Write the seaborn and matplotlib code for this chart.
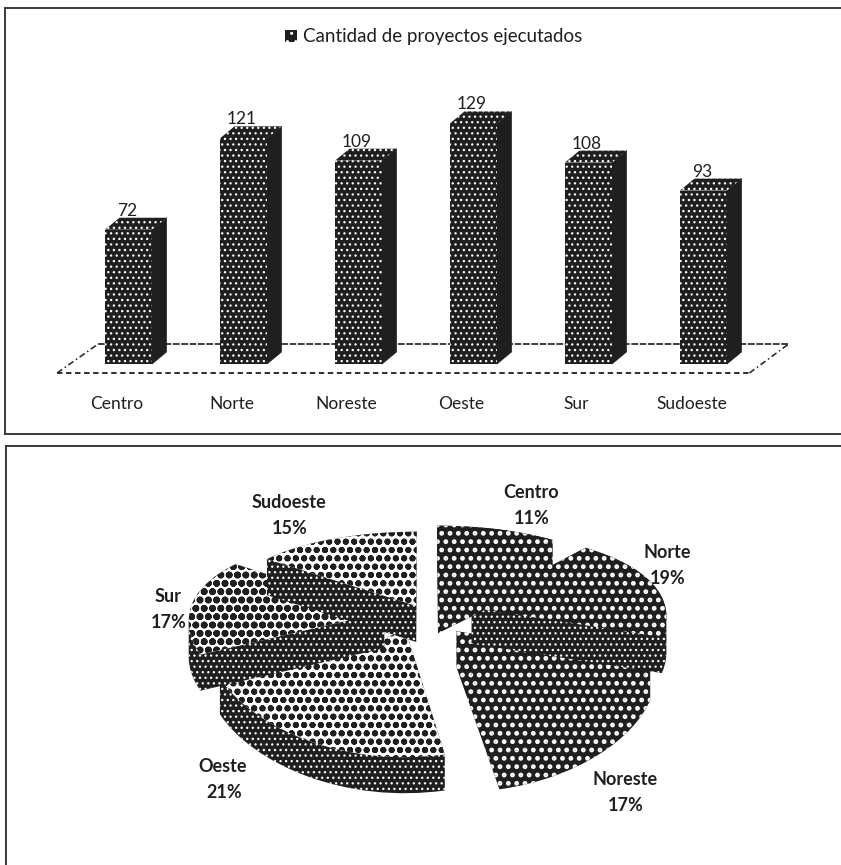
import numpy as np
import pandas as pd
import matplotlib
matplotlib.use("Agg")
import matplotlib.pyplot as plt
from matplotlib.patches import Patch, Polygon
from matplotlib.transforms import Affine2D, ScaledTranslation
import seaborn as sns

regions = ["Centro", "Norte", "Noreste", "Oeste", "Sur", "Sudoeste"]
projects = [72, 121, 109, 129, 108, 93]
shares = [11, 19, 17, 21, 17, 15]
legend_label = "Cantidad de proyectos ejecutados"

W, H = 841, 865
INK = "#1f1f1f"
FRAME = "#3a3a3a"

sns.set_theme(style="white")
plt.rcParams["font.family"] = ["Lato", "DejaVu Sans"]
fig = plt.figure(figsize=(W / 100, H / 100), dpi=100, facecolor="white")


def panel(left, top, right, bottom):
    """Axes placed by pixel edges measured from the top-left corner."""
    return fig.add_axes([left / W, 1 - bottom / H, (right - left) / W, (bottom - top) / H])


# ---- 3D-looking column chart ----
ax = panel(5, 8, 841, 434)
PX_X, PX_Y = 115.0, 1.865       # pixels per category / per project
X0, Y0 = 128.5, 364.0           # pixel position of the first bar, baseline
DX, DY = 14.5 / PX_X, 12 / PX_Y  # extrusion depth in data units
BAR_W = 47 / PX_X

frame = pd.DataFrame({"region": regions, "projects": projects})
sns.barplot(data=frame, x="region", y="projects", ax=ax, width=BAR_W, color=INK,
            saturation=1, edgecolor="white", linewidth=0, hatch="...", zorder=3)
for bar in ax.patches:
    bar.set_facecolor(INK)
    bar.set_edgecolor("white")
    bar.set_hatch_linewidth(0.9)
    bar.set_linewidth(0)

ax.set_xlim((5 - X0) / PX_X, (841 - X0) / PX_X)
ax.set_ylim(-(434 - Y0) / PX_Y, (Y0 - 8) / PX_Y)

for i, v in enumerate(projects):
    l, r = i - BAR_W / 2, i + BAR_W / 2
    ax.add_patch(Polygon([(r, 0), (r + DX, DY), (r + DX, v + DY), (r, v)],
                         facecolor=INK, edgecolor=INK, linewidth=0.5, zorder=2))
    top = Polygon([(l, v), (l + DX, v + DY), (r + DX, v + DY), (r, v)],
                  facecolor=INK, edgecolor="white", linewidth=0, hatch="...", zorder=2)
    top.set_hatch_linewidth(0.9)
    ax.add_patch(top)
    ax.annotate(str(v), (i, v + DY), xytext=(-1, 5), textcoords="offset points",
                ha="center", va="center", fontsize=12.5, color=INK, zorder=5)

# floor of the chart
front_l, front_r, back_l, back_r = -0.62, 5.40, -0.265, 5.74
front_y, back_y = -4.8, 10.7
ax.plot([front_l, front_r], [front_y, front_y], color=INK, lw=1.3, ls=(0, (3, 2)), zorder=1)
ax.plot([back_l, back_r], [back_y, back_y], color=INK, lw=1.2, ls=(0, (4, 1)), zorder=1)
ax.plot([front_l, back_l], [front_y, back_y], color=INK, lw=1.1, ls=(0, (4, 2, 1, 2)), zorder=1)
ax.plot([front_r, back_r], [front_y, back_y], color=INK, lw=1.1, ls=(0, (4, 2, 1, 2)), zorder=1)

ax.set_xlabel("")
ax.set_ylabel("")
ax.set_yticks([])
ax.set_xticks(range(len(regions)), regions)
ax.tick_params(axis="x", length=0, pad=-27.5, labelsize=12.5, labelcolor=INK)
for lab in ax.get_xticklabels():
    lab.set_transform(lab.get_transform() + ScaledTranslation(-12 / 100, 0, fig.dpi_scale_trans))

handle = Patch(facecolor=INK, edgecolor="white", linewidth=0, hatch="..", label=legend_label)
ax.legend(handles=[handle], loc="center", bbox_to_anchor=(0.513, 0.932), frameon=False,
          fontsize=13.5, handlelength=0.62, handleheight=0.62, handletextpad=0.35,
          labelcolor=INK)

ax.spines["right"].set_visible(False)
for side in ("top", "left", "bottom"):
    ax.spines[side].set_color(FRAME)
    ax.spines[side].set_linewidth(1.4)

# ---- Tilted, exploded pie ----
pax = panel(5, 445, 841, 880)
explode = [0.20, 0.25, 0.24, 0.21, 0.21, 0.10]
wedges, _ = pax.pie(shares, explode=explode, startangle=90, counterclock=False)
# flatten the arcs at a high resolution so the projected rims stay smooth
fine = Affine2D().scale(200)
outlines = [fine.transform_path(w.get_path()).to_polygons(closed_only=True)[0] / 200 for w in wedges]
for w in wedges:
    w.remove()
pax.set_aspect("auto")
pax.set_xlim(5, 841)
pax.set_ylim(880, 445)
pax.axis("off")
pax.add_line(plt.Line2D([5, 841], [445, 445], color=FRAME, lw=2.8))
pax.add_line(plt.Line2D([5, 5], [445, 880], color=FRAME, lw=2.8))

CX, CY = 425.0, 614.0
RX, RY = 195.0, 92.0
PERSP_X, PERSP_Y = 0.08, 0.2
THICK = 36.0


def project(points):
    """Perspective view of the pie plane, returned in panel pixels."""
    u, v = points[:, 0], points[:, 1]
    return np.column_stack([CX + RX * u / (1 + PERSP_X * v), CY - RY * v / (1 + PERSP_Y * v)])


def hull(points):
    """Convex hull, used for the extruded silhouette of a slice."""
    pts = sorted(map(tuple, points))

    def half(seq):
        out = []
        for p in seq:
            while len(out) > 1 and ((out[-1][0] - out[-2][0]) * (p[1] - out[-2][1])
                                    - (out[-1][1] - out[-2][1]) * (p[0] - out[-2][0])) <= 0:
                out.pop()
            out.append(p)
        return out[:-1]
    return half(pts) + half(pts[::-1])


def shape(points, face, dots, hatch, lw, z):
    poly = Polygon(points, closed=True, facecolor=face, edgecolor=dots, linewidth=0, hatch=hatch, zorder=z)
    poly.set_hatch_linewidth(lw)
    pax.add_patch(poly)


DARK = (INK, "white", "..", 2.2)
LIGHT = ("white", INK, "oo", 2.0)
MEDIUM = ("white", INK, "oo", 2.5)
BAND = (INK, "white", "...", 0.9)
top_styles = {"Centro": DARK, "Norte": DARK, "Noreste": DARK, "Oeste": LIGHT, "Sur": MEDIUM, "Sudoeste": LIGHT}
band_styles = {"Centro": DARK, "Norte": BAND, "Noreste": DARK, "Oeste": BAND, "Sur": BAND, "Sudoeste": BAND}

# slices overlap from the lowest one upward
stack = ["Oeste", "Noreste", "Sur", "Norte", "Sudoeste", "Centro"]
for z, name in enumerate(stack, start=2):
    top = project(outlines[regions.index(name)])
    shape(hull(np.vstack([top, top + [0, THICK]])), *band_styles[name], z)
    shape(top, *top_styles[name], z)

label_xy = {"Centro": (531, 493), "Norte": (667, 553), "Noreste": (625, 780),
            "Oeste": (223, 767), "Sur": (168, 597), "Sudoeste": (289, 503)}
for name, share in zip(regions, shares):
    x, y = label_xy[name]
    pax.text(x, y, name, ha="center", va="center", fontsize=13, fontweight="bold", color=INK, zorder=10)
    pax.text(x + 1, y + 26, f"{share}%", ha="center", va="center", fontsize=13, fontweight="bold", color=INK, zorder=10)

fig.savefig("out.png", dpi=100, facecolor="white")
